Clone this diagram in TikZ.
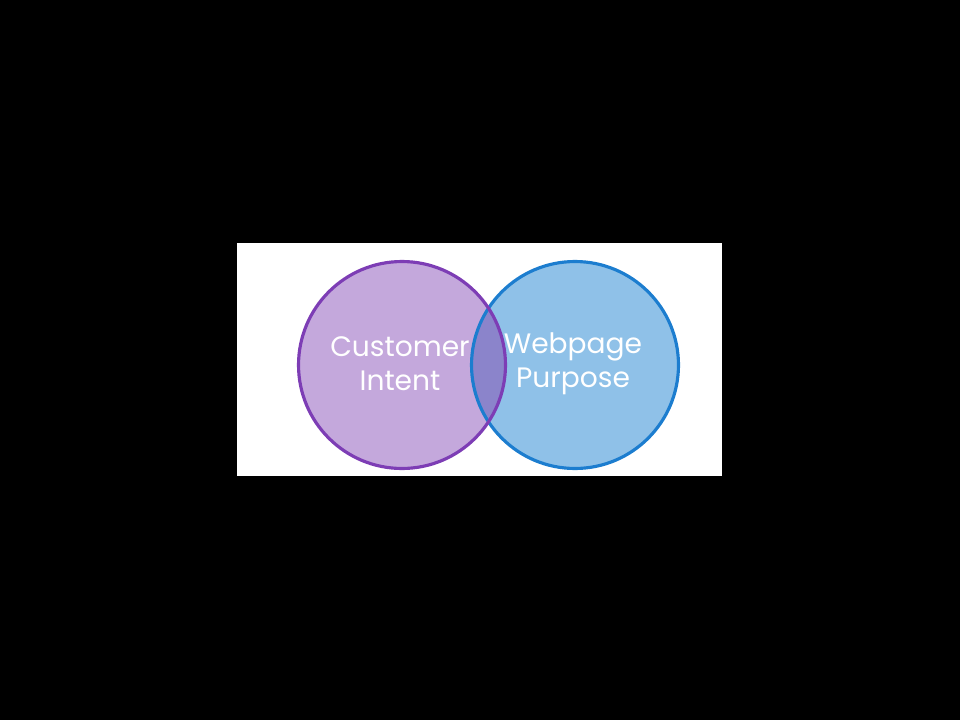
\documentclass[tikz,border=0pt]{standalone}
\usepackage{fontspec}
\setmainfont{Poppins}
\usepackage{tikz}
\usetikzlibrary{positioning}

\definecolor{intentfill}{HTML}{C4A8DC}
\definecolor{intentline}{HTML}{7D3DB5}
\definecolor{purposefill}{HTML}{8FC1E8}
\definecolor{purposeline}{HTML}{1C7DCF}
\definecolor{overlapfill}{HTML}{8B84CB}

\begin{document}
\begin{tikzpicture}[%
x=0.02cm,
y=-0.02cm,
set/.style={circle, minimum size=4.14cm, inner sep=0pt, outer sep=0pt},
ring/.style={set, line width=1.8pt},
caption/.style={text=white, align=center, font=\fontsize{16}{19.5}\selectfont}
]

\fill[black] (0,0) rectangle (960,720);
\fill[white] (237,243) rectangle (722,476);

\node[set, fill=purposefill] (purpose) at (575,365) {};
\node[set, fill=intentfill] (intent) at (402,365) {};

\begin{scope}
\clip (intent.center) circle[radius=2.07cm];
\fill[overlapfill] (purpose.center) circle[radius=2.07cm];
\end{scope}

\node[ring, draw=purposeline] at (purpose) {};
\node[ring, draw=intentline] at (intent) {};

\node[caption] (intenttext) at (400,364) {Customer\\Intent};
\node[caption] (purposetext) at (573,364) {Webpage\\Purpose};

\end{tikzpicture}
\end{document}
